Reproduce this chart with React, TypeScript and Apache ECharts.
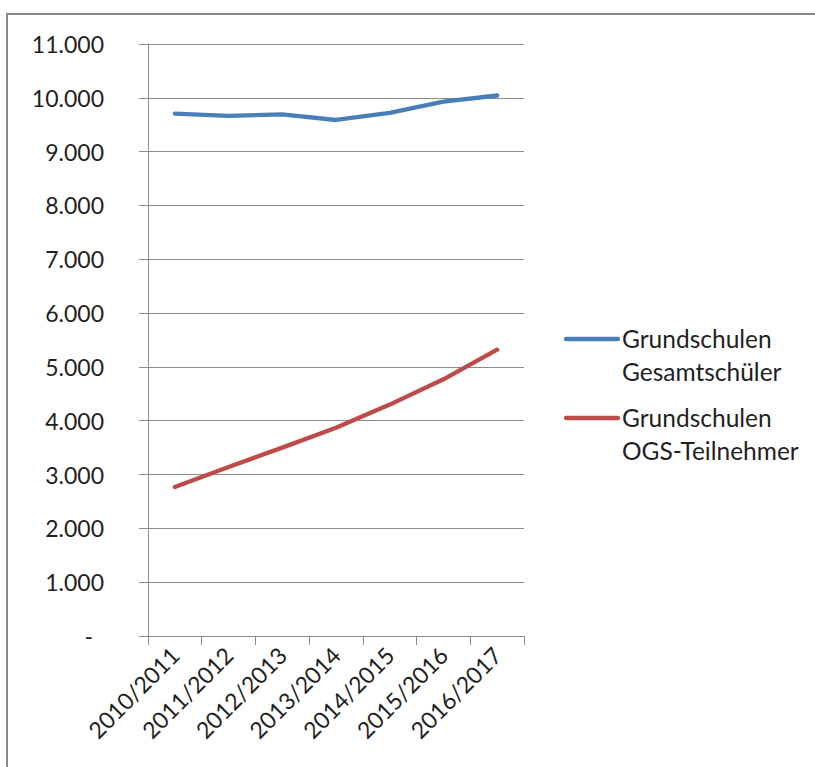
import React, { useEffect, useRef } from "react";
import * as echarts from "echarts";

const categories = ["2010/2011", "2011/2012", "2012/2013", "2013/2014", "2014/2015", "2015/2016", "2016/2017"];
const gesamtschueler = [9706, 9663, 9693, 9588, 9719, 9931, 10043];
const ogsTeilnehmer = [2770, 3140, 3500, 3870, 4300, 4770, 5320];
const seriesNames = ["Grundschulen\nGesamtschüler", "Grundschulen\nOGS-Teilnehmer"];
const yMax = 11000;
const yStep = 1000;

const BLUE = "#4A7EBB";
const RED = "#BE4B48";
const FONT = "Lato, 'Liberation Sans', sans-serif";
const TEXT = "#1f1f1f";
const GRID = "#8c8c8c";

function fmt(v: number): string {
  if (v === 0) return "{d|-}";
  return String(v / 1000) + ".000";
}

export default function App() {
  const ref = useRef<HTMLDivElement>(null);
  useEffect(() => {
    if (!ref.current) return;
    const chart = echarts.init(ref.current, undefined, { renderer: "svg" });
    chart.setOption({
      animation: false,
      backgroundColor: "#ffffff",
      grid: { left: 148, right: 291, top: 44, bottom: 131, containLabel: false },
      xAxis: {
        type: "category",
        data: categories,
        boundaryGap: true,
        axisLine: { lineStyle: { color: GRID, width: 1 } },
        axisTick: { show: true, length: 9, lineStyle: { color: GRID } },
        axisLabel: { rotate: 45, margin: 15, fontSize: 23, fontFamily: FONT, color: TEXT },
        splitLine: { show: false },
      },
      yAxis: {
        type: "value",
        min: 0,
        max: yMax,
        interval: yStep,
        axisLine: { show: true, lineStyle: { color: GRID, width: 1 } },
        axisTick: { show: true, length: 9, lineStyle: { color: GRID } },
        axisLabel: {
          margin: 44,
          fontSize: 23,
          fontFamily: FONT,
          color: TEXT,
          formatter: fmt,
          rich: { d: { fontSize: 23, fontFamily: FONT, color: TEXT, padding: [0, 11, 0, 0] } },
        },
        splitLine: { show: true, lineStyle: { color: GRID, width: 1 } },
      },
      series: [
        {
          name: seriesNames[0],
          type: "line",
          data: gesamtschueler,
          showSymbol: false,
          symbol: "none",
          lineStyle: { color: BLUE, width: 4.3, cap: "round", join: "round" },
          itemStyle: { color: BLUE },
        },
        {
          name: seriesNames[1],
          type: "line",
          data: ogsTeilnehmer,
          showSymbol: false,
          symbol: "none",
          lineStyle: { color: RED, width: 4.3, cap: "round", join: "round" },
          itemStyle: { color: RED },
        },
      ],
      graphic: [
        {
          type: "rect",
          silent: true,
          shape: { x: 7, y: 14, width: 1000, height: 1000 },
          style: { fill: "none", stroke: "#888888", lineWidth: 2 },
        },
        {
          type: "line",
          silent: true,
          shape: { x1: 566, y1: 339, x2: 618, y2: 339 },
          style: { stroke: BLUE, lineWidth: 4.3, lineCap: "round" },
        },
        {
          type: "text",
          silent: true,
          x: 622,
          y: 322,
          style: { text: seriesNames[0], font: "24.5px " + FONT, fill: TEXT, lineHeight: 33, verticalAlign: "top", align: "left" },
        },
        {
          type: "line",
          silent: true,
          shape: { x1: 566, y1: 418, x2: 618, y2: 418 },
          style: { stroke: RED, lineWidth: 4.3, lineCap: "round" },
        },
        {
          type: "text",
          silent: true,
          x: 622,
          y: 401,
          style: { text: seriesNames[1], font: "24.5px " + FONT, fill: TEXT, lineHeight: 33, verticalAlign: "top", align: "left" },
        },
      ],
    });
    return () => chart.dispose();
  }, []);
  return <div ref={ref} style={{ position: "absolute", left: 0, top: 0, width: 815, height: 767 }} />;
}
